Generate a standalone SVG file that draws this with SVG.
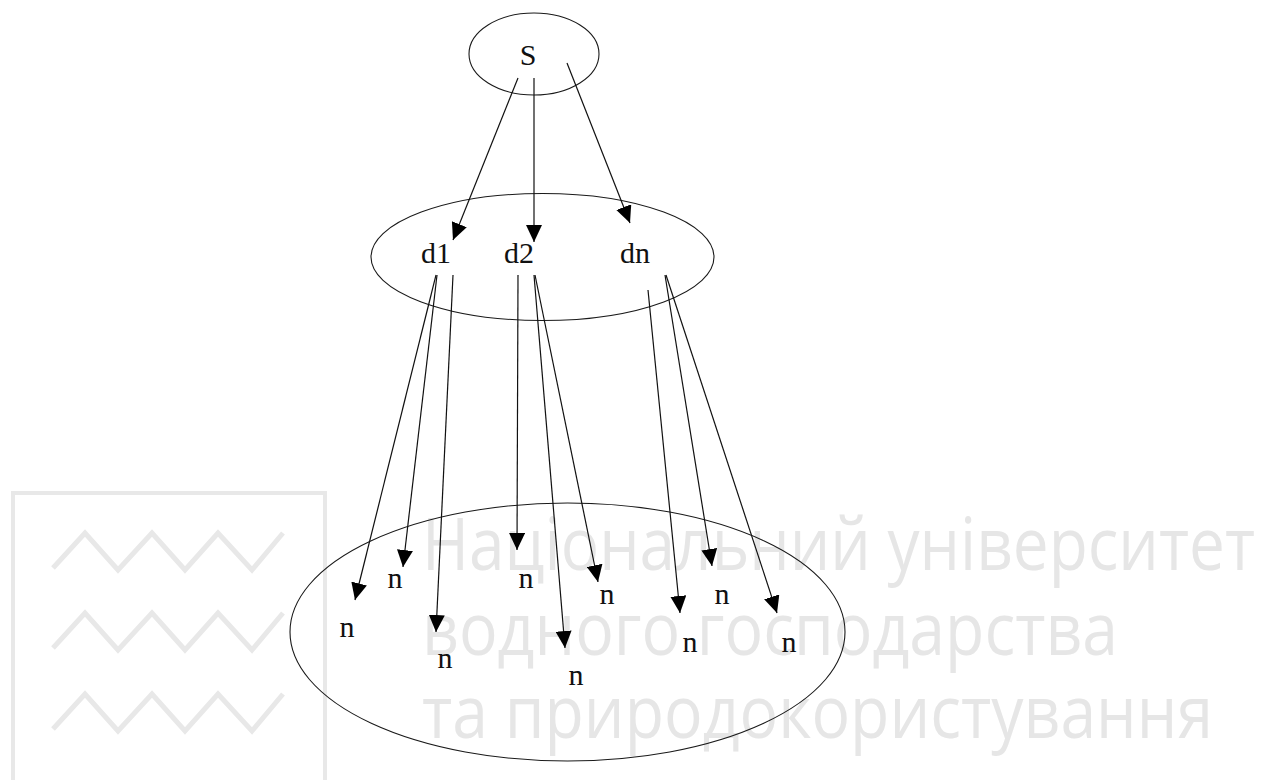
<svg xmlns="http://www.w3.org/2000/svg" width="1265" height="780" viewBox="0 0 1265 780">
  <style>
    .bg { fill: #ffffff; }
    .shape { fill: none; stroke: #1a1a1a; stroke-width: 1.1; }
    .edge { fill: none; stroke: #111111; stroke-width: 1.2; marker-end: url(#arrow); }
    .lbl { font-family: "Liberation Serif", "Times New Roman", serif; font-size: 30px; fill: #111111; text-anchor: middle; }
    .wm-line { fill: none; stroke: #e8e8e8; stroke-width: 5; stroke-linejoin: miter; }
    .wm-box { fill: none; stroke: #e8e8e8; stroke-width: 4; }
    .wm-text { font-family: "Open Sans", "Noto Sans", "DejaVu Sans", sans-serif; font-size: 74px; fill: #e6e6e6; }
  </style>
  <defs>
    <marker id="arrow" markerUnits="userSpaceOnUse" markerWidth="17" markerHeight="16" refX="17" refY="8" orient="auto">
      <path d="M0,0 L17,8 L0,16 z" fill="#000000"/>
    </marker>
    <polyline id="zig" points="53,568 85,533 118,570 152,533 185,570 218,533 252,570 283,533"/>
  </defs>

  <rect class="bg" x="0" y="0" width="1265" height="780"/>

  <!-- emblem and name in the background -->
  <g id="emblem">
    <rect class="wm-box" x="13" y="493" width="312" height="300"/>
    <use href="#zig" class="wm-line"/>
    <use href="#zig" class="wm-line" y="80"/>
    <use href="#zig" class="wm-line" y="161"/>
    <text class="wm-text" x="422" y="570" textLength="833" lengthAdjust="spacingAndGlyphs">Національний університет</text>
    <text class="wm-text" x="422" y="655" textLength="696" lengthAdjust="spacingAndGlyphs">водного господарства</text>
    <text class="wm-text" x="422" y="738" textLength="791" lengthAdjust="spacingAndGlyphs">та природокористування</text>
  </g>

  <!-- source -->
  <g id="node-S">
    <ellipse class="shape" cx="534" cy="54" rx="65" ry="41"/>
    <text class="lbl" x="528" y="65">S</text>
  </g>

  <!-- middle set -->
  <g id="set-d">
    <ellipse class="shape" cx="542.5" cy="257" rx="171.5" ry="63.5"/>
  </g>
  <g id="node-d1"><text class="lbl" x="436" y="263">d1</text></g>
  <g id="node-d2"><text class="lbl" x="519" y="263">d2</text></g>
  <g id="node-dn"><text class="lbl" x="635" y="263">dn</text></g>

  <!-- bottom set -->
  <g id="set-n">
    <ellipse class="shape" cx="567.5" cy="632" rx="277.5" ry="129"/>
  </g>
  <g id="node-n1"><text class="lbl" x="347" y="637">n</text></g>
  <g id="node-n2"><text class="lbl" x="395" y="588">n</text></g>
  <g id="node-n3"><text class="lbl" x="445" y="668">n</text></g>
  <g id="node-n4"><text class="lbl" x="526" y="588">n</text></g>
  <g id="node-n5"><text class="lbl" x="576" y="685">n</text></g>
  <g id="node-n6"><text class="lbl" x="607" y="604">n</text></g>
  <g id="node-n7"><text class="lbl" x="690" y="652">n</text></g>
  <g id="node-n8"><text class="lbl" x="722" y="604">n</text></g>
  <g id="node-n9"><text class="lbl" x="789" y="652">n</text></g>

  <!-- connectors -->
  <g id="edges">
    <line class="edge" x1="518" y1="78" x2="453" y2="240"/>
    <line class="edge" x1="534" y1="78" x2="534" y2="242"/>
    <line class="edge" x1="567" y1="63" x2="630" y2="223"/>

    <line class="edge" x1="436" y1="275" x2="355" y2="600"/>
    <line class="edge" x1="437" y1="275" x2="403" y2="567"/>
    <line class="edge" x1="453" y1="275" x2="436" y2="632"/>

    <line class="edge" x1="518" y1="275" x2="517" y2="550"/>
    <line class="edge" x1="534" y1="275" x2="565" y2="648"/>
    <line class="edge" x1="535" y1="275" x2="598" y2="582"/>

    <line class="edge" x1="648" y1="290" x2="680" y2="613"/>
    <line class="edge" x1="665" y1="275" x2="712" y2="566"/>
    <line class="edge" x1="666" y1="275" x2="777" y2="613"/>
  </g>
</svg>
